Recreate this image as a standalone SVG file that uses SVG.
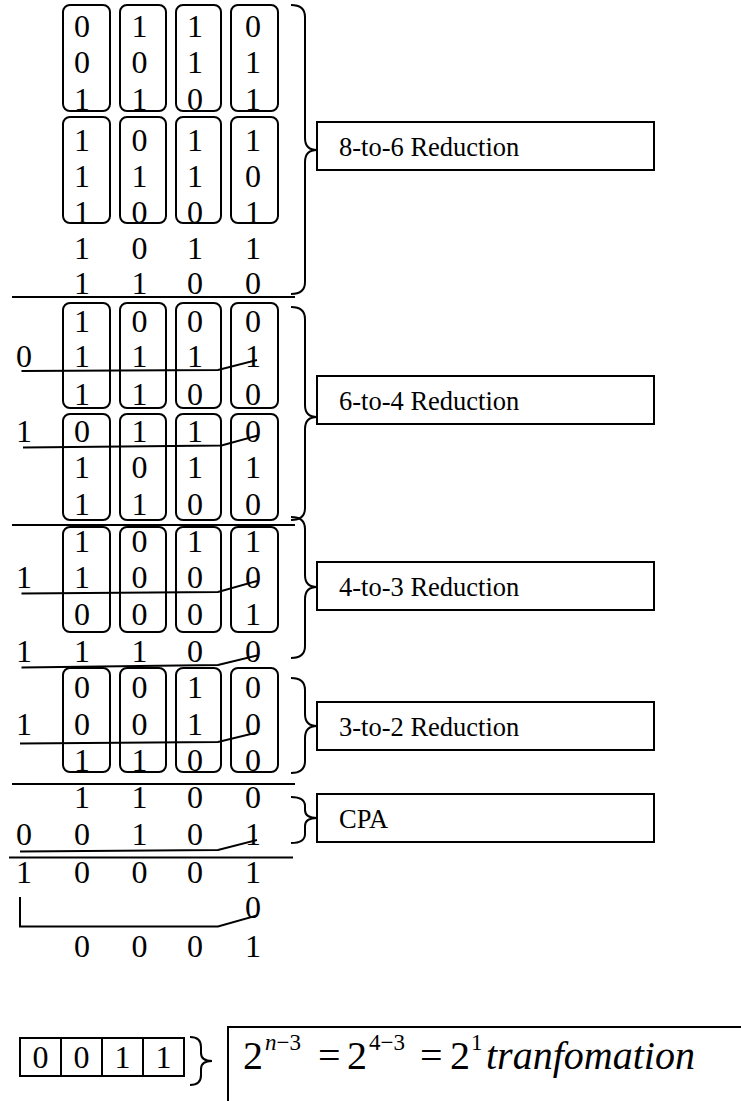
<svg xmlns="http://www.w3.org/2000/svg" width="741" height="1101" viewBox="0 0 741 1101">
<style>
.d{font-family:"Liberation Serif","Times New Roman",serif;font-size:32px;fill:#000;text-anchor:middle}
.lb{font-family:"Liberation Serif","Times New Roman",serif;font-size:26.5px;fill:#000}
.fm{font-family:"Liberation Serif","Times New Roman",serif;font-size:40px;fill:#000}
.sup{font-size:23px}
.it{font-style:italic}
.col{fill:none;stroke:#000;stroke-width:2}
.box{fill:#fff;stroke:#000;stroke-width:2}
.ln{fill:none;stroke:#000;stroke-width:2}
</style>
<rect width="741" height="1101" fill="#fff"/>

<g id="columns">
  <g id="s1a"><rect class="col" x="63" y="5" width="47" height="106" rx="7"/><rect class="col" x="120" y="5" width="46" height="106" rx="7"/><rect class="col" x="176" y="5" width="45" height="106" rx="7"/><rect class="col" x="231" y="5" width="47" height="106" rx="7"/></g>
  <g id="s1b"><rect class="col" x="63" y="117" width="47" height="106" rx="7"/><rect class="col" x="120" y="117" width="46" height="106" rx="7"/><rect class="col" x="176" y="117" width="45" height="106" rx="7"/><rect class="col" x="231" y="117" width="47" height="106" rx="7"/></g>
  <g id="s2a"><rect class="col" x="63" y="303" width="47" height="105" rx="7"/><rect class="col" x="120" y="303" width="46" height="105" rx="7"/><rect class="col" x="176" y="303" width="45" height="105" rx="7"/><rect class="col" x="231" y="303" width="47" height="105" rx="7"/></g>
  <g id="s2b"><rect class="col" x="63" y="414" width="47" height="106" rx="7"/><rect class="col" x="120" y="414" width="46" height="106" rx="7"/><rect class="col" x="176" y="414" width="45" height="106" rx="7"/><rect class="col" x="231" y="414" width="47" height="106" rx="7"/></g>
  <g id="s3"><rect class="col" x="63" y="527" width="47" height="105" rx="7"/><rect class="col" x="120" y="527" width="46" height="105" rx="7"/><rect class="col" x="176" y="527" width="45" height="105" rx="7"/><rect class="col" x="231" y="527" width="47" height="105" rx="7"/></g>
  <g id="s4"><rect class="col" x="63" y="668" width="47" height="104" rx="7"/><rect class="col" x="120" y="668" width="46" height="104" rx="7"/><rect class="col" x="176" y="668" width="45" height="104" rx="7"/><rect class="col" x="231" y="668" width="47" height="104" rx="7"/></g>
</g>

<g id="digits" class="d">
  <text y="37"><tspan x="82">0</tspan><tspan x="139.5">1</tspan><tspan x="195">1</tspan><tspan x="253">0</tspan></text>
  <text y="73"><tspan x="82">0</tspan><tspan x="139.5">0</tspan><tspan x="195">1</tspan><tspan x="253">1</tspan></text>
  <text y="110"><tspan x="82">1</tspan><tspan x="139.5">1</tspan><tspan x="195">0</tspan><tspan x="253">1</tspan></text>
  <text y="151"><tspan x="82">1</tspan><tspan x="139.5">0</tspan><tspan x="195">1</tspan><tspan x="253">1</tspan></text>
  <text y="187"><tspan x="82">1</tspan><tspan x="139.5">1</tspan><tspan x="195">1</tspan><tspan x="253">0</tspan></text>
  <text y="223"><tspan x="82">1</tspan><tspan x="139.5">0</tspan><tspan x="195">0</tspan><tspan x="253">1</tspan></text>
  <text y="259"><tspan x="82">1</tspan><tspan x="139.5">0</tspan><tspan x="195">1</tspan><tspan x="253">1</tspan></text>
  <text y="294"><tspan x="82">1</tspan><tspan x="139.5">1</tspan><tspan x="195">0</tspan><tspan x="253">0</tspan></text>

  <text y="332"><tspan x="82">1</tspan><tspan x="139.5">0</tspan><tspan x="195">0</tspan><tspan x="253">0</tspan></text>
  <text y="367"><tspan x="24">0</tspan><tspan x="82">1</tspan><tspan x="139.5">1</tspan><tspan x="195">1</tspan><tspan x="253">1</tspan></text>
  <text y="405"><tspan x="82">1</tspan><tspan x="139.5">1</tspan><tspan x="195">0</tspan><tspan x="253">0</tspan></text>
  <text y="442"><tspan x="24">1</tspan><tspan x="82">0</tspan><tspan x="139.5">1</tspan><tspan x="195">1</tspan><tspan x="253">0</tspan></text>
  <text y="478"><tspan x="82">1</tspan><tspan x="139.5">0</tspan><tspan x="195">1</tspan><tspan x="253">1</tspan></text>
  <text y="515"><tspan x="82">1</tspan><tspan x="139.5">1</tspan><tspan x="195">0</tspan><tspan x="253">0</tspan></text>

  <text y="552"><tspan x="82">1</tspan><tspan x="139.5">0</tspan><tspan x="195">1</tspan><tspan x="253">1</tspan></text>
  <text y="588"><tspan x="24">1</tspan><tspan x="82">1</tspan><tspan x="139.5">0</tspan><tspan x="195">0</tspan><tspan x="253">0</tspan></text>
  <text y="625"><tspan x="82">0</tspan><tspan x="139.5">0</tspan><tspan x="195">0</tspan><tspan x="253">1</tspan></text>
  <text y="662"><tspan x="24">1</tspan><tspan x="82">1</tspan><tspan x="139.5">1</tspan><tspan x="195">0</tspan><tspan x="253">0</tspan></text>

  <text y="698"><tspan x="82">0</tspan><tspan x="139.5">0</tspan><tspan x="195">1</tspan><tspan x="253">0</tspan></text>
  <text y="735"><tspan x="24">1</tspan><tspan x="82">0</tspan><tspan x="139.5">0</tspan><tspan x="195">1</tspan><tspan x="253">0</tspan></text>
  <text y="771"><tspan x="82">1</tspan><tspan x="139.5">1</tspan><tspan x="195">0</tspan><tspan x="253">0</tspan></text>

  <text y="808"><tspan x="82">1</tspan><tspan x="139.5">1</tspan><tspan x="195">0</tspan><tspan x="253">0</tspan></text>
  <text y="845"><tspan x="24">0</tspan><tspan x="82">0</tspan><tspan x="139.5">1</tspan><tspan x="195">0</tspan><tspan x="253">1</tspan></text>
  <text y="883"><tspan x="24">1</tspan><tspan x="82">0</tspan><tspan x="139.5">0</tspan><tspan x="195">0</tspan><tspan x="253">1</tspan></text>
  <text y="918"><tspan x="253">0</tspan></text>
  <text y="957"><tspan x="82">0</tspan><tspan x="139.5">0</tspan><tspan x="195">0</tspan><tspan x="253">1</tspan></text>
</g>

<g id="connectors" class="ln">
  <line x1="12" y1="297" x2="295" y2="297"/>
  <line x1="12" y1="525" x2="295" y2="525"/>
  <line x1="12" y1="784" x2="295" y2="784"/>
  <line x1="9" y1="857.5" x2="293" y2="857.5"/>
  <polyline points="21.5,371 218,370 257,360"/>
  <polyline points="23,447.5 221.5,445.5 258,435.5"/>
  <polyline points="21.5,593.5 218,592 257,581"/>
  <polyline points="21.5,667.5 218,665 257,655.5"/>
  <polyline points="20,743.5 218,742 257,732.5"/>
  <polyline points="20,851.5 218,850 257,840"/>
  <polyline points="20,897 20,926.5 218,926.5 257,915.5"/>
  <path d="M291,5 Q305,5 305,17 L305,138 Q305,150 317,150 Q305,150 305,162 L305,282 Q305,294 291,294"/>
  <path d="M291,307 Q305,307 305,319 L305,405 Q305,417 317,417 Q305,417 305,429 L305,508 Q305,520 291,520"/>
  <path d="M291,517 Q305,517 305,529 L305,575 Q305,587 317,587 Q305,587 305,599 L305,646 Q305,658 291,658"/>
  <path d="M291,678 Q305,678 305,690 L305,714 Q305,726 317,726 Q305,726 305,738 L305,761 Q305,773 291,773"/>
  <path d="M291,797 Q305,797 305,806 L305,810 Q305,818 317,818 Q305,818 305,826 L305,834 Q305,843 291,843"/>
  <path d="M190,1037 Q201,1037 201,1047 L201,1053 Q201,1061 212,1061 Q201,1061 201,1069 L201,1075 Q201,1085 190,1085"/>
</g>

<g id="label-8to6"><rect class="box" x="317" y="122" width="337" height="48"/><text class="lb" x="339" y="156">8-to-6 Reduction</text></g>
<g id="label-6to4"><rect class="box" x="317" y="376" width="337" height="48"/><text class="lb" x="339" y="410">6-to-4 Reduction</text></g>
<g id="label-4to3"><rect class="box" x="317" y="562" width="337" height="48"/><text class="lb" x="339" y="596">4-to-3 Reduction</text></g>
<g id="label-3to2"><rect class="box" x="317" y="702" width="337" height="48"/><text class="lb" x="339" y="736">3-to-2 Reduction</text></g>
<g id="label-cpa"><rect class="box" x="317" y="794" width="337" height="48"/><text class="lb" x="339" y="828">CPA</text></g>

<g id="result">
  <rect class="box" x="20" y="1038" width="164" height="38"/>
  <line class="ln" x1="61" y1="1038" x2="61" y2="1076"/>
  <line class="ln" x1="102" y1="1038" x2="102" y2="1076"/>
  <line class="ln" x1="143" y1="1038" x2="143" y2="1076"/>
  <text class="d" y="1068"><tspan x="40.5">0</tspan><tspan x="81.5">0</tspan><tspan x="122.5">1</tspan><tspan x="163.5">1</tspan></text>
</g>

<g id="formula">
  <rect class="box" x="228" y="1027" width="600" height="200"/>
  <text class="fm" y="1069"><tspan x="243">2</tspan><tspan class="sup it" x="265" y="1050">n</tspan><tspan class="sup">−3</tspan><tspan x="318" y="1069">=</tspan><tspan x="347">2</tspan><tspan class="sup" x="369" y="1050">4−3</tspan><tspan x="420" y="1069">=</tspan><tspan x="450">2</tspan><tspan class="sup" x="471" y="1050">1</tspan><tspan class="it" x="486" y="1069">tranfomation</tspan></text>
</g>
</svg>
